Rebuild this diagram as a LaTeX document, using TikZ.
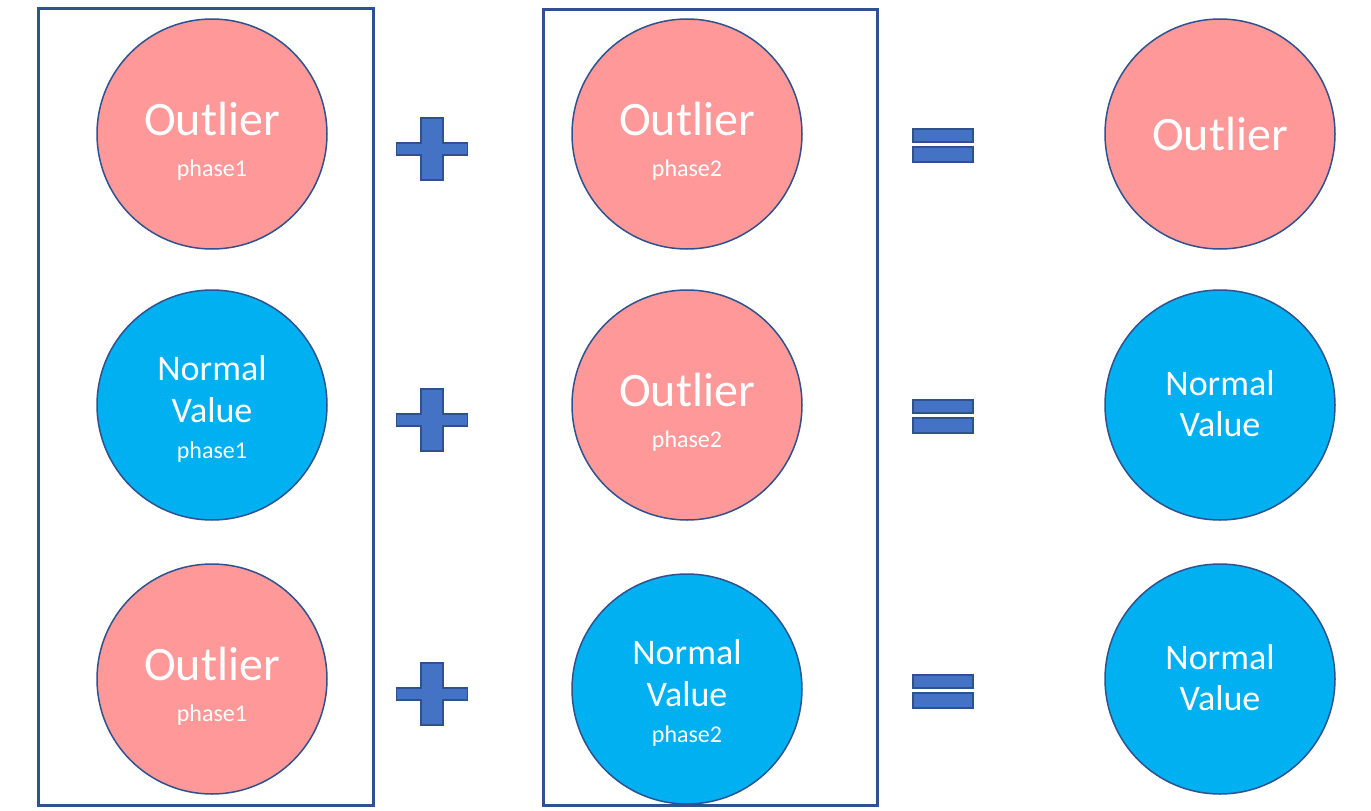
\documentclass[tikz,border=0pt]{standalone}
\usepackage{fontspec}
\setmainfont{Carlito}
\usepackage{xcolor}
\usetikzlibrary{positioning}
\definecolor{outlierred}{HTML}{FF9999}
\definecolor{normalblue}{HTML}{00B0F0}
\definecolor{edgeblue}{HTML}{2F528F}
\definecolor{signblue}{HTML}{4472C4}

\begin{document}
\begin{tikzpicture}[x=1pt,y=-1pt,
    every node/.style={on grid,node distance=271pt},
    ball/.style={circle,draw=edgeblue,line width=1.5pt,minimum size=230pt,inner sep=0pt},
    outlier/.style={ball,fill=outlierred},
    normal/.style={ball,fill=normalblue},
    frame/.style={draw=edgeblue,line width=3pt,inner sep=0pt},
    big/.style={anchor=base,text=white,font=\fontsize{48}{48}\selectfont},
    mid/.style={anchor=base,text=white,font=\fontsize{36}{36}\selectfont},
    small/.style={anchor=base,text=white,font=\fontsize{24}{24}\selectfont},
    sign/.style={fill=signblue,draw=edgeblue,line width=1.5pt}]
    \useasboundingbox (0,0) rectangle (1371,811);
    % the two boxes
    \node[frame,minimum width=335pt,minimum height=797pt] (box1) at (205.5,406.5) {};
    \node[frame,minimum width=334pt,minimum height=796pt] (box2) at (710,407) {};
    % phase 1
    \node[outlier] (a1) at (212,134) {};
    \node[normal,below=of a1] (a2) {};
    \node[outlier,below=274pt of a2] (a3) {};
    % phase 2
    \node[outlier] (b1) at (687,134) {};
    \node[outlier,below=of b1] (b2) {};
    \node[normal,below=284pt of b2] (b3) {};
    % result
    \node[outlier] (c1) at (1220,134) {};
    \node[normal,below=of c1] (c2) {};
    \node[normal,below=274pt of c2] (c3) {};
    % texts
    \node[big] (ta1) at ([yshift=-1pt]a1.center) {Outlier};
    \node[small] (pa1) at ([yshift=-42pt]a1.center) {phase1};
    \node[mid] (na2) at ([yshift=25pt]a2.center) {Normal};
    \node[mid] (va2) at ([yshift=-17pt]a2.center) {Value};
    \node[small] (pa2) at ([yshift=-53pt]a2.center) {phase1};
    \node[big] (ta3) at ([yshift=-1pt]a3.center) {Outlier};
    \node[small] (pa3) at ([yshift=-42pt]a3.center) {phase1};
    \node[big] (tb1) at ([yshift=-1pt]b1.center) {Outlier};
    \node[small] (pb1) at ([yshift=-42pt]b1.center) {phase2};
    \node[big] (tb2) at ([yshift=-1pt]b2.center) {Outlier};
    \node[small] (pb2) at ([yshift=-42pt]b2.center) {phase2};
    \node[mid] (nb3) at ([yshift=25pt]b3.center) {Normal};
    \node[mid] (vb3) at ([yshift=-17pt]b3.center) {Value};
    \node[small] (pb3) at ([yshift=-53pt]b3.center) {phase2};
    \node[big] (tc1) at ([yshift=-16pt]c1.center) {Outlier};
    \node[mid] (nc2) at ([yshift=10pt]c2.center) {Normal};
    \node[mid] (vc2) at ([yshift=-31pt]c2.center) {Value};
    \node[mid] (nc3) at ([yshift=10pt]c3.center) {Normal};
    \node[mid] (vc3) at ([yshift=-31pt]c3.center) {Value};
    % plus and equals signs
    \foreach \n/\y in {1/149,2/420,3/694} {
      \coordinate (plus\n) at (432,\y);
      \filldraw[sign] (plus\n) ++(-11,-31) -- ++(22,0) -- ++(0,25) -- ++(24.5,0)
        -- ++(0,12) -- ++(-24.5,0) -- ++(0,25) -- ++(-22,0) -- ++(0,-25)
        -- ++(-24.5,0) -- ++(0,-12) -- ++(24.5,0) -- cycle;
    }
    \foreach \n/\y in {1/145,2/416,3/691} {
      \coordinate (eq\n) at (943,\y);
      \filldraw[sign] (eq\n) ++(-30,-16) rectangle ++(60,13);
      \filldraw[sign] (eq\n) ++(-30,2) rectangle ++(60,15);
    }
  \end{tikzpicture}
\end{document}
